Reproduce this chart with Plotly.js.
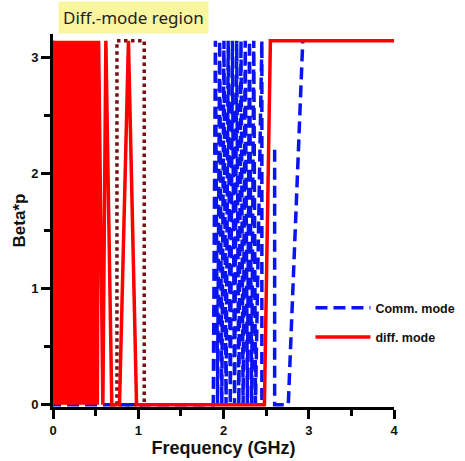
<!DOCTYPE html>
<html>
<head>
<meta charset="utf-8">
<script src="https://cdn.plot.ly/plotly-3.0.1.min.js"></script>
<style>html,body{margin:0;padding:0;background:#fff}#chart{width:465px;height:461px}</style>
</head>
<body>
<div id="chart"></div>
<script>
// diff. mode (red): frequency (GHz) and Beta*p
var diffX = [0,0.02,0.04,0.06,0.08,0.10,0.12,0.14,0.16,0.18,0.20,0.22,0.24,0.26,0.28,0.30,0.32,0.34,0.36,0.38,0.40,0.42,0.44,0.46,0.48,0.50,0.52,0.535,0.585,0.62,0.69,0.78,0.885,0.98,2.48,2.55,4.0];
var diffY = [0,3.1416,0,3.1416,0,3.1416,0,3.1416,0,3.1416,0,3.1416,0,3.1416,0,3.1416,0,3.1416,0,3.1416,0,3.1416,0,3.1416,0,3.1416,0,3.1416,0,3.1416,0,0,3.1416,0,0,3.1416,3.1416];
// comm. mode (blue)
var commX = [0,0,1.88,1.905,1.93,1.955,1.98,2.005,2.03,2.055,2.08,2.105,2.13,2.155,2.18,2.205,2.23,2.255,2.28,2.305,2.33,2.355,2.375,2.45,2.45,null,2.6,2.6,2.76,2.93];
var commY = [3.1416,0,0,3.1416,0,3.1416,0,3.1416,0,3.1416,0,3.1416,0,3.1416,0,3.1416,0,3.1416,0,3.1416,0,3.1416,0,3.1416,0,null,2.2,0,0,3.1416];
// highlighted diff.-mode region bounds
var regionX = [0.75,0.75,1.07,1.07,0.75];
var regionY = [0,3.1416,3.1416,0,0];
var xTicks = [0,1,2,3,4];
var yTicks = [0,1,2,3];

var tickFont = {family:'Liberation Sans, Arial, sans-serif', size:13, color:'#111', weight:'bold'};
var traces = [
  {x:regionX, y:regionY, mode:'lines', showlegend:false, hoverinfo:'skip',
   line:{color:'#7a0f0f', width:3.5, dash:'dot'}},
  {x:commX, y:commY, mode:'lines', name:'Comm. mode', legendgroup:'a',
   line:{color:'#0a14f0', width:3.5, dash:'12px,6px'}},
  {x:diffX, y:diffY, mode:'lines', name:'diff. mode', legendgroup:'b',
   line:{color:'#ff0000', width:3.5}}
];
var layout = {
  width:465, height:461,
  margin:{l:53, r:71, t:34, b:54, autoexpand:false},
  paper_bgcolor:'#fff', plot_bgcolor:'#fff',
  showlegend:true,
  legend:{x:0.755, y:0.305, xanchor:'left', yanchor:'top', bgcolor:'rgba(0,0,0,0)',
    font:{family:'Liberation Sans, Arial, sans-serif', size:12.5, color:'#111', weight:'bold'},
    itemwidth:55, tracegroupgap:10, traceorder:'grouped'},
  xaxis:{range:[0,4], automargin:false, tickvals:xTicks, ticktext:xTicks.map(String), showgrid:false, zeroline:false,
    showline:true, linecolor:'#000', linewidth:3, ticks:'outside', ticklen:9, tickwidth:3, tickcolor:'#000',
    minor:{dtick:0.5, ticks:'outside', ticklen:6, tickwidth:3, tickcolor:'#000'},
    tickfont:tickFont,
    title:{text:'Frequency (GHz)', font:{family:'Liberation Sans, Arial, sans-serif', size:18, color:'#111', weight:'bold'}, standoff:4}},
  yaxis:{range:[-0.02,3.2], automargin:false, tickvals:yTicks, ticktext:yTicks.map(String), showgrid:false, zeroline:false,
    showline:true, linecolor:'#000', linewidth:3, ticks:'outside', ticklen:9, tickwidth:3, tickcolor:'#000',
    minor:{dtick:0.5, ticks:'outside', ticklen:6, tickwidth:3, tickcolor:'#000'},
    tickfont:tickFont,
    title:{text:'Beta*p', font:{family:'Liberation Sans, Arial, sans-serif', size:17, color:'#111', weight:'bold'}, standoff:2}},
  annotations:[{text:'Diff.-mode region', xref:'paper', yref:'paper', x:0.015, y:1.088, xanchor:'left', yanchor:'top',
    showarrow:false, bgcolor:'#faf6a0', borderpad:4,
    font:{family:'Noto Sans, Open Sans, sans-serif', size:17, color:'#222'}}]
};
Plotly.newPlot('chart', traces, layout, {displayModeBar:false, staticPlot:true});
</script>
</body>
</html>
